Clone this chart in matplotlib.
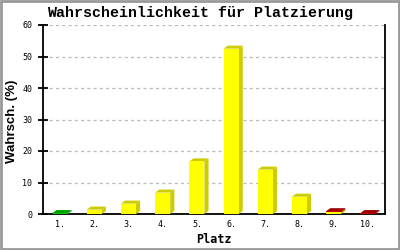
import numpy as np
import matplotlib
matplotlib.use('Agg')
import matplotlib.pyplot as plt
from matplotlib.patches import Polygon, Rectangle

# Daten
plaetze = ['1.', '2.', '3.', '4.', '5.', '6.', '7.', '8.', '9.', '10.']
gruen = [0.3, 0, 0, 0, 0, 0, 0, 0, 0, 0]
gelb = [0, 1.4, 3.3, 6.8, 16.7, 52.5, 14.1, 5.5, 0.5, 0]
rot = [0, 0, 0, 0, 0, 0, 0, 0, 0.4, 0.3]

farben = [('#00cc00', '#00a000'), ('#ffff00', '#cccc00'), ('#cc0000', '#a00000')]

fig = plt.figure(figsize=(4, 2.5), dpi=100)
ax = fig.add_axes([0.1075, 0.144, 0.855, 0.756])

x = np.arange(1, len(plaetze) + 1)
breite = 0.44
dx = 0.12   # Tiefe 3D (Daten-Einheiten x)
dy = 0.95   # Tiefe 3D (Daten-Einheiten y)

unten = np.zeros(len(plaetze))
for serie, (vorne, seite) in zip([gruen, gelb, rot], farben):
    werte = np.array(serie, dtype=float)
    for xi, b, h in zip(x, unten, werte):
        if h <= 0:
            continue
        l, r = xi - breite / 2, xi + breite / 2
        # Seite
        ax.add_patch(Polygon([(r, b), (r + dx, b + dy), (r + dx, b + h + dy), (r, b + h)],
                             closed=True, fc=seite, ec='none', zorder=3))
        # Deckel
        ax.add_patch(Polygon([(l, b + h), (l + dx, b + h + dy), (r + dx, b + h + dy), (r, b + h)],
                             closed=True, fc=seite, ec='none', zorder=3))
        # Front
        ax.add_patch(Rectangle((l, b), breite, h, fc=vorne, ec='none', zorder=4))
    unten = unten + werte

ax.set_xlim(0.5, 10.5)
ax.set_ylim(0, 60)
ax.set_yticks(np.arange(0, 61, 10))
ax.set_xticks(x)
ax.set_xticklabels(plaetze)
ax.yaxis.grid(True, color='#bbbbbb', linestyle=(0, (2.5, 2.5)), linewidth=0.9, zorder=0)
ax.set_axisbelow(True)

ax.spines['top'].set_visible(False)
for s in ['left', 'bottom', 'right']:
    ax.spines[s].set_linewidth(1.3)
ax.tick_params(axis='y', direction='inout', length=7.2, width=1.3, pad=4,
               labelsize=6)
ax.tick_params(axis='x', length=0, pad=4, labelsize=6)
for t in ax.get_xticklabels() + ax.get_yticklabels():
    t.set_family('DejaVu Sans Mono')

fig.text(0.5, 0.948, 'Wahrscheinlichkeit für Platzierung', ha='center', va='center',
         family='Liberation Mono', fontweight='bold', fontsize=10.8)
fig.text(0.535, 0.042, 'Platz', ha='center', va='center',
         family='DejaVu Sans Mono', fontweight='bold', fontsize=8.5)
fig.text(0.03, 0.516, 'Wahrsch. (%)', ha='center', va='center', rotation=90,
         family='Liberation Sans', fontweight='bold', fontsize=9.5)

# grauer Rahmen
fig.patches.append(Rectangle((0.003, 0.004), 0.994, 0.992, transform=fig.transFigure,
                             fill=False, ec='#999999', lw=2))

fig.savefig('out.png', dpi=100)
